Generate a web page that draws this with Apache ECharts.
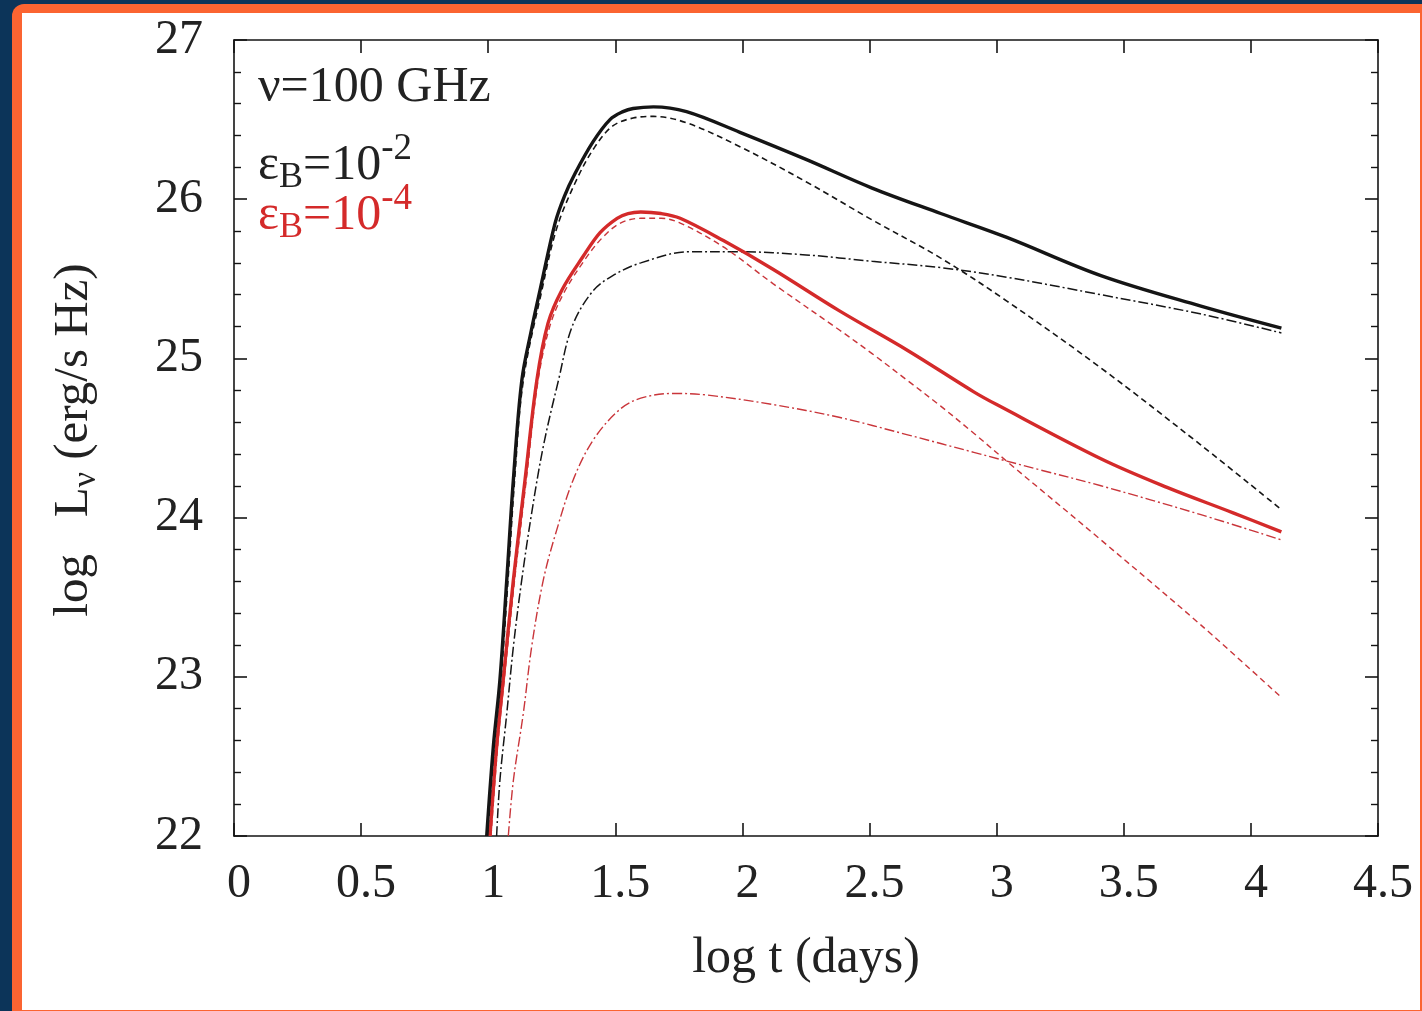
<!DOCTYPE html>
<html><head><meta charset="utf-8">
<script src="https://cdn.jsdelivr.net/npm/echarts@6/dist/echarts.min.js"></script>
<style>
html,body{margin:0;padding:0;width:1422px;height:1011px;overflow:hidden;background:#0c3459;}
#frame{position:absolute;left:12px;top:4px;width:1420px;height:1020px;background:#fb6431;border-radius:12px 0 0 0;}
#paper{position:absolute;left:22px;top:13px;width:1398px;height:997px;background:#fff;}
#chart{position:absolute;left:0;top:0;width:1422px;height:1011px;}
</style></head><body>
<div id="frame"></div><div id="paper"></div><div id="chart"></div>
<script>
// ---- axis definitions ----
const xRange = [0, 4.5];
const xStep = 0.5;
const yRange = [22, 27];
const yStep = 1;
const xTickLabels = ['0', '0.5', '1', '1.5', '2', '2.5', '3', '3.5', '4', '4.5'];
const yTickLabels = ['22', '23', '24', '25', '26', '27'];

// ---- series values: [log t (days), log L_nu] ----
const blackTotal = [[0.994,22.0],[1.020,22.56],[1.046,22.98],[1.073,23.61],[1.099,24.24],[1.132,24.86],[1.170,25.18],[1.204,25.43],[1.263,25.85],[1.300,26.02],[1.341,26.16],[1.412,26.36],[1.479,26.50],[1.530,26.55],[1.570,26.57],[1.650,26.58],[1.780,26.55],[1.990,26.42],[2.250,26.25],[2.510,26.07],[2.780,25.91],[3.040,25.76],[3.410,25.52],[3.800,25.33],[4.120,25.19]];
const blackDashed = [[0.998,22.0],[1.024,22.56],[1.050,22.98],[1.078,23.61],[1.104,24.24],[1.138,24.86],[1.210,25.42],[1.270,25.82],[1.350,26.13],[1.420,26.33],[1.490,26.46],[1.570,26.51],[1.650,26.52],[1.780,26.48],[1.990,26.33],[2.250,26.11],[2.510,25.87],[2.780,25.63],[3.040,25.36],[3.410,24.94],[3.800,24.46],[4.120,24.05]];
const blackDashDot = [[1.033,22.0],[1.046,22.35],[1.073,22.77],[1.099,23.19],[1.132,23.61],[1.171,24.03],[1.217,24.45],[1.276,24.86],[1.330,25.20],[1.410,25.42],[1.490,25.52],[1.600,25.60],[1.790,25.67],[1.990,25.67],[2.250,25.65],[2.510,25.61],[2.780,25.57],[3.040,25.51],[3.410,25.40],[3.800,25.28],[4.120,25.16]];
const redTotal = [[1.007,22.0],[1.033,22.56],[1.059,22.98],[1.099,23.61],[1.145,24.24],[1.191,24.86],[1.235,25.22],[1.290,25.43],[1.373,25.64],[1.440,25.79],[1.507,25.88],[1.550,25.91],[1.600,25.92],[1.680,25.91],[1.755,25.88],[1.925,25.74],[2.120,25.56],[2.380,25.30],[2.650,25.05],[2.910,24.79],[3.000,24.71],[3.410,24.37],[3.670,24.19],[3.930,24.03],[4.120,23.91]];
const redDashed = [[1.011,22.0],[1.037,22.56],[1.063,22.98],[1.104,23.61],[1.150,24.24],[1.196,24.86],[1.242,25.20],[1.297,25.41],[1.380,25.62],[1.450,25.76],[1.520,25.85],[1.600,25.88],[1.680,25.88],[1.755,25.85],[1.925,25.70],[2.120,25.47],[2.380,25.18],[2.510,25.03],[2.650,24.86],[2.780,24.70],[2.910,24.53],[3.050,24.34],[3.410,23.86],[3.800,23.33],[4.120,22.87]];
const redDashDot = [[1.079,22.0],[1.099,22.35],[1.138,22.77],[1.171,23.19],[1.217,23.61],[1.269,23.92],[1.335,24.24],[1.414,24.49],[1.518,24.68],[1.600,24.75],[1.730,24.78],[1.860,24.77],[2.120,24.71],[2.380,24.63],[2.650,24.52],[2.910,24.41],[3.170,24.30],[3.410,24.20],[3.800,24.02],[4.120,23.86]];

const FONT = '"Liberation Serif", "DejaVu Serif", serif';
const BLACK = '#151515';
const RED = '#d42a2a';
const RED_THIN = '#c9353a';

const chart = echarts.init(document.getElementById('chart'), null, {renderer: 'canvas'});

function xAxisDef(pos, showLabel) {
  return {
    type: 'value', position: pos, min: xRange[0], max: xRange[1], interval: xStep,
    axisLine: {show: true, onZero: false, lineStyle: {color: BLACK, width: 1.6}},
    axisTick: {show: true, inside: true, length: 13, lineStyle: {color: BLACK, width: 1.6}},
    minorTick: {show: false},
    splitLine: {show: false},
    axisLabel: {show: showLabel, fontFamily: FONT, fontSize: 48, color: '#222', margin: 24,
      padding: [0, 0, 0, 10],
      formatter: v => xTickLabels[Math.round((v - xRange[0]) / xStep)]},
    name: showLabel ? 'log t (days)' : '',
    nameLocation: 'middle', nameGap: 98,
    nameTextStyle: {fontFamily: FONT, fontSize: 50, color: '#222'}
  };
}
function yAxisDef(pos, showLabel) {
  return {
    type: 'value', position: pos, min: yRange[0], max: yRange[1], interval: yStep,
    axisLine: {show: true, onZero: false, lineStyle: {color: BLACK, width: 1.6}},
    axisTick: {show: true, inside: true, length: 13, lineStyle: {color: BLACK, width: 1.6}},
    minorTick: {show: true, splitNumber: 5, length: 7, lineStyle: {color: BLACK, width: 1.4}},
    splitLine: {show: false},
    axisLabel: {show: showLabel, fontFamily: FONT, fontSize: 48, color: '#222', margin: 31,
      formatter: v => yTickLabels[Math.round((v - yRange[0]) / yStep)]}
  };
}

function line(name, data, color, width, type, z) {
  return {
    name, type: 'line', data, xAxisIndex: 0, yAxisIndex: 0,
    showSymbol: false, symbol: 'none', smooth: 0.35, clip: true, z,
    lineStyle: {color, width, type}
  };
}

function scriptLabel(y, color, sup) {
  return {type: 'text', x: 258, y, z: 10, style: {
    text: '{n|ε}{sub|B}{n|=10}{sup|' + sup + '}', fill: color, verticalAlign: 'middle', align: 'left',
    rich: {
      n: {fontFamily: FONT, fontSize: 50, fill: color},
      sub: {fontFamily: FONT, fontSize: 36, fill: color, padding: [24, 0, 0, 0]},
      sup: {fontFamily: FONT, fontSize: 37, fill: color, padding: [0, 0, 34, 0]}
    }}};
}

chart.setOption({
  animation: false,
  backgroundColor: 'transparent',
  grid: {left: 234, top: 40, right: 44, bottom: 175, containLabel: false},
  xAxis: [xAxisDef('bottom', true), xAxisDef('top', false)],
  yAxis: [yAxisDef('left', true), yAxisDef('right', false)],
  series: [
    line('blackDashDot', blackDashDot, BLACK, 1.5, [10, 3, 2, 3], 2),
    line('blackDashed', blackDashed, BLACK, 1.6, [6, 4], 2),
    line('redDashDot', redDashDot, RED_THIN, 1.4, [10, 3, 2, 3], 2),
    line('redDashed', redDashed, RED_THIN, 1.4, [6, 4], 2),
    line('redTotal', redTotal, RED, 3.4, 'solid', 3),
    line('blackTotal', blackTotal, BLACK, 3.4, 'solid', 4)
  ],
  graphic: [
    {type: 'text', x: 258, y: 88, z: 10, style: {text: 'ν=100 GHz', font: '50px ' + FONT, fill: '#222', verticalAlign: 'middle', align: 'left'}},
    scriptLabel(166, '#222', '-2'),
    scriptLabel(216, RED, '-4'),
    {type: 'text', x: 74, y: 440, rotation: Math.PI / 2, z: 10, style: {
      text: '{n|log   L}{sub|ν}{n| (erg/s Hz)}', fill: '#222', verticalAlign: 'middle', align: 'center',
      rich: {
        n: {fontFamily: FONT, fontSize: 49, fill: '#222'},
        sub: {fontFamily: FONT, fontSize: 34, fill: '#222', padding: [24, 0, 0, 0]}
      }}}
  ]
});
</script></body></html>
